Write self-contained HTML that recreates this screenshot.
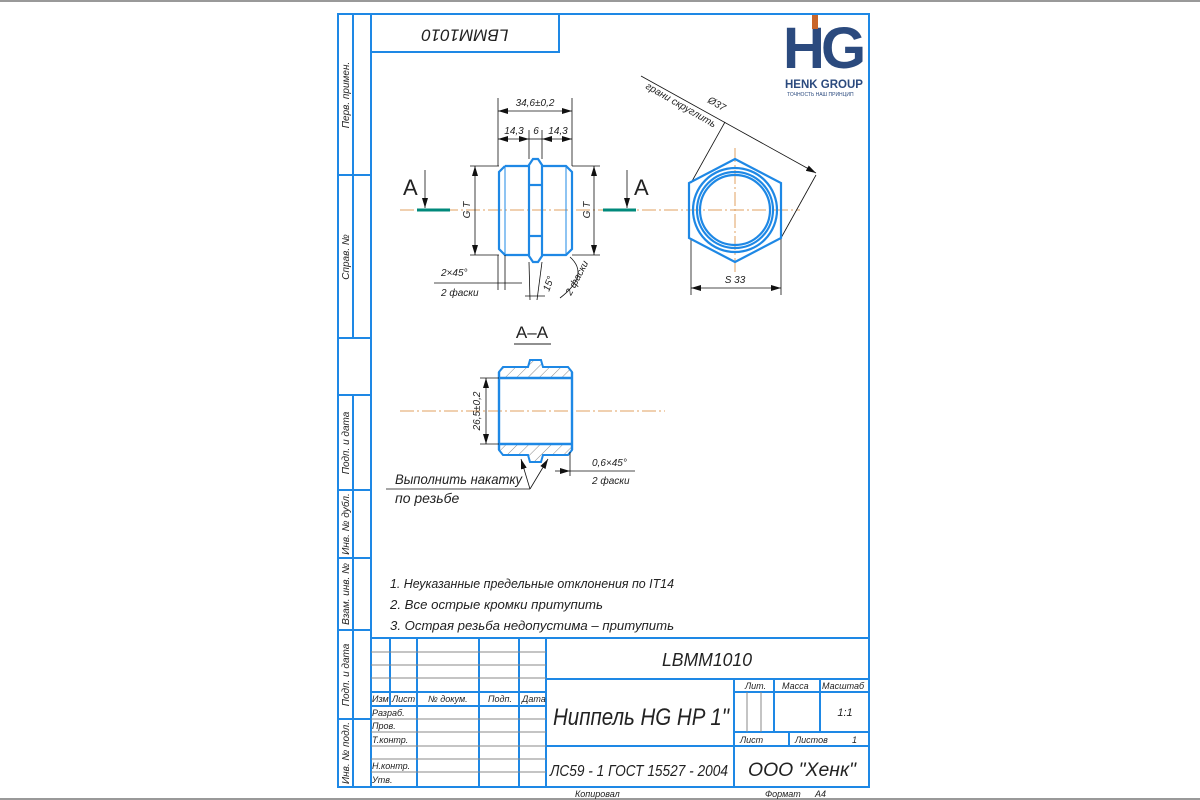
<!DOCTYPE html>
<html><head><meta charset="utf-8"><style>
html,body{margin:0;padding:0;background:#fff}
svg{display:block}
text{font-family:"Liberation Sans Narrow","Liberation Sans",sans-serif;font-style:italic;fill:#222}
</style></head><body>
<svg width="1200" height="800" viewBox="0 0 1200 800" xmlns="http://www.w3.org/2000/svg">
<defs>
<marker id="ar" viewBox="0 0 10 6" refX="10" refY="3" markerWidth="10" markerHeight="6" orient="auto-start-reverse" markerUnits="userSpaceOnUse"><path d="M0,0L10,3L0,6z" fill="#111"/></marker>
<pattern id="hatch" width="8" height="8" patternUnits="userSpaceOnUse" patternTransform="rotate(45)"><line x1="0" y1="0" x2="0" y2="8" stroke="#555" stroke-width="0.7"/></pattern>
</defs>
<rect x="0" y="0" width="1200" height="2" fill="#999"/>
<rect x="0" y="798" width="1200" height="2" fill="#999"/>
<g stroke="#1e88e5" stroke-width="2" fill="none">
<rect x="338" y="14" width="531" height="773"/>
<line x1="371" y1="14" x2="371" y2="787"/>
<line x1="353" y1="14" x2="353" y2="338"/>
<line x1="338" y1="175" x2="371" y2="175"/>
<line x1="338" y1="338" x2="371" y2="338"/>
<line x1="353" y1="395" x2="353" y2="787"/>
<line x1="338" y1="395" x2="371" y2="395"/>
<line x1="338" y1="490" x2="371" y2="490"/>
<line x1="338" y1="558" x2="371" y2="558"/>
<line x1="338" y1="630" x2="371" y2="630"/>
<line x1="338" y1="719" x2="371" y2="719"/>
<rect x="371" y="14" width="188" height="38"/>
<line x1="371" y1="638" x2="869" y2="638"/>
<line x1="390" y1="638" x2="390" y2="706"/>
<line x1="417" y1="638" x2="417" y2="787"/>
<line x1="479" y1="638" x2="479" y2="787"/>
<line x1="519" y1="638" x2="519" y2="787"/>
<line x1="546" y1="638" x2="546" y2="787"/>
<line x1="371" y1="692" x2="546" y2="692"/>
<line x1="371" y1="706" x2="546" y2="706"/>
<line x1="546" y1="679" x2="869" y2="679"/>
<line x1="546" y1="746" x2="869" y2="746"/>
<line x1="734" y1="679" x2="734" y2="787"/>
<line x1="734" y1="692" x2="869" y2="692"/>
<line x1="734" y1="732" x2="869" y2="732"/>
<line x1="774" y1="679" x2="774" y2="732"/>
<line x1="820" y1="679" x2="820" y2="732"/>
<line x1="789" y1="732" x2="789" y2="746"/>
</g>
<g stroke="#888" stroke-width="1">
<line x1="371" y1="652" x2="546" y2="652"/><line x1="371" y1="665" x2="546" y2="665"/><line x1="371" y1="678" x2="546" y2="678"/>
<line x1="371" y1="719" x2="546" y2="719"/><line x1="371" y1="732" x2="546" y2="732"/><line x1="371" y1="746" x2="546" y2="746"/><line x1="371" y1="759" x2="546" y2="759"/><line x1="371" y1="772" x2="546" y2="772"/>
<line x1="747" y1="692" x2="747" y2="732"/><line x1="761" y1="692" x2="761" y2="732"/>
</g>
<g font-size="10">
<text transform="translate(349,95) rotate(-90)" text-anchor="middle">Перв. примен.</text>
<text transform="translate(349,257) rotate(-90)" text-anchor="middle">Справ. №</text>
<text transform="translate(349,443) rotate(-90)" text-anchor="middle">Подп. и дата</text>
<text transform="translate(349,524) rotate(-90)" text-anchor="middle">Инв. № дубл.</text>
<text transform="translate(349,594) rotate(-90)" text-anchor="middle">Взам. инв. №</text>
<text transform="translate(349,675) rotate(-90)" text-anchor="middle">Подп. и дата</text>
<text transform="translate(349,753) rotate(-90)" text-anchor="middle">Инв. № подл.</text>
</g>
<text transform="translate(465,34) rotate(180)" text-anchor="middle" font-size="17" dominant-baseline="middle">LBMM1010</text>
<!-- logo -->
<text x="783" y="68" font-size="58" font-weight="bold" style="font-style:normal;fill:#2b4a7e;font-family:'Liberation Sans',sans-serif">H</text>
<rect x="812" y="15" width="6" height="14" fill="#c8652a"/>
<text x="821" y="68" font-size="58" font-weight="bold" style="font-style:normal;fill:#2b4a7e;font-family:'Liberation Sans',sans-serif">G</text>
<text x="785" y="88" font-size="11.5" font-weight="bold" style="font-style:normal;fill:#2b4a7e;font-family:'Liberation Sans',sans-serif">HENK GROUP</text>
<text x="787" y="96" font-size="5" style="font-style:normal;fill:#2b4a7e;font-family:'Liberation Sans',sans-serif">ТОЧНОСТЬ НАШ ПРИНЦИП</text>
<!-- centerlines -->
<g stroke="#e0a060" stroke-width="1" stroke-dasharray="14,3,2,3" fill="none">
<line x1="400" y1="210" x2="800" y2="210"/>
<line x1="735" y1="148" x2="735" y2="272"/>
<line x1="400" y1="411" x2="665" y2="411"/>
</g>
<!-- main view -->
<g stroke="#1e88e5" stroke-width="2.2" fill="none">
<path d="M505,166 H529 M542,166 H566 L572,172 V249 L566,255 H542 M529,255 H505 L499,249 V172 L505,166"/>
<path d="M533,159 H538 L542,165 V256 L538,262 H533 L529,256 V165 Z"/>
<line x1="529" y1="185" x2="542" y2="185"/><line x1="529" y1="236" x2="542" y2="236"/>
</g>
<g stroke="#1e88e5" stroke-width="1" fill="none"><line x1="505" y1="166" x2="505" y2="255"/><line x1="566" y1="166" x2="566" y2="255"/></g>
<g stroke="#111" stroke-width="0.8" fill="none">
<line x1="498" y1="98" x2="498" y2="166"/><line x1="572" y1="98" x2="572" y2="166"/>
<line x1="529" y1="130" x2="529" y2="159"/><line x1="542" y1="130" x2="542" y2="159"/>
<line x1="498" y1="111" x2="572" y2="111" marker-start="url(#ar)" marker-end="url(#ar)"/>
<line x1="498" y1="139" x2="529" y2="139" marker-start="url(#ar)" marker-end="url(#ar)"/>
<line x1="529" y1="139" x2="542" y2="139"/>
<line x1="542" y1="139" x2="572" y2="139" marker-start="url(#ar)" marker-end="url(#ar)"/>
<line x1="470" y1="166" x2="499" y2="166"/><line x1="470" y1="255" x2="499" y2="255"/>
<line x1="475" y1="166" x2="475" y2="255" marker-start="url(#ar)" marker-end="url(#ar)"/>
<line x1="572" y1="166" x2="600" y2="166"/><line x1="572" y1="255" x2="600" y2="255"/>
<line x1="594" y1="166" x2="594" y2="255" marker-start="url(#ar)" marker-end="url(#ar)"/>
<line x1="425" y1="170" x2="425" y2="208" marker-end="url(#ar)"/>
<line x1="627" y1="170" x2="627" y2="208" marker-end="url(#ar)"/>
<line x1="434" y1="283" x2="522" y2="283"/><line x1="498" y1="255" x2="498" y2="290"/><line x1="505" y1="255" x2="505" y2="290"/>
<line x1="542" y1="262" x2="537" y2="300"/><line x1="529" y1="262" x2="530" y2="300"/>
<line x1="525" y1="296" x2="545" y2="296"/>
<path d="M570,257 Q590,275 560,298"/>
<line x1="691" y1="238" x2="691" y2="295"/><line x1="781" y1="238" x2="781" y2="295"/>
<line x1="691" y1="288" x2="781" y2="288" marker-start="url(#ar)" marker-end="url(#ar)"/>
<line x1="641" y1="76" x2="816" y2="173" marker-end="url(#ar)"/>
<line x1="691" y1="183" x2="725" y2="122"/><line x1="781" y1="238" x2="816" y2="175"/>
</g>
<g stroke="#00897b" stroke-width="3"><line x1="417" y1="210" x2="450" y2="210"/><line x1="603" y1="210" x2="636" y2="210"/></g>
<text x="403" y="195" font-size="22" style="font-style:normal;font-family:'Liberation Sans',sans-serif">A</text>
<text x="634" y="195" font-size="22" style="font-style:normal;font-family:'Liberation Sans',sans-serif">A</text>
<g font-size="10">
<text x="535" y="106" text-anchor="middle">34,6±0,2</text>
<text x="514" y="134" text-anchor="middle">14,3</text>
<text x="536" y="134" text-anchor="middle">6</text>
<text x="558" y="134" text-anchor="middle">14,3</text>
<text transform="translate(470,210) rotate(-90)" text-anchor="middle">G T</text>
<text transform="translate(590,210) rotate(-90)" text-anchor="middle">G T</text>
<text x="441" y="276">2×45°</text>
<text x="441" y="296">2 фаски</text>
<text transform="translate(549,292) rotate(-70)">15°</text>
<text transform="translate(571,296) rotate(-62)">2 фаски</text>
<text x="735" y="283" text-anchor="middle">S 33</text>
<text transform="translate(707,102) rotate(30)">Ø37</text>
<text transform="translate(645,88) rotate(30)">грани скруглить</text>
</g>
<g stroke="#1e88e5" stroke-width="2.2" fill="none">
<polygon points="735,159 781,183 781,238 735,262 689,238 689,183"/>
<circle cx="735" cy="210" r="42"/><circle cx="735" cy="210" r="38"/><circle cx="735" cy="210" r="35"/>
</g>
<!-- section A-A -->
<text x="532" y="338" font-size="17" text-anchor="middle" style="font-style:normal;font-family:'Liberation Sans',sans-serif">A–A</text>
<line x1="514" y1="344" x2="551" y2="344" stroke="#222" stroke-width="1"/>
<path d="M503,367 H528 L530,360 H541 L543,367 H568 L572,372 V378 H499 V372 Z" fill="url(#hatch)" stroke="#1e88e5" stroke-width="2"/>
<path d="M503,455 H528 L530,462 H541 L543,455 H568 L572,450 V444 H499 V450 Z" fill="url(#hatch)" stroke="#1e88e5" stroke-width="2"/>
<g stroke="#1e88e5" stroke-width="2.4" fill="none"><line x1="499" y1="372" x2="499" y2="450"/><line x1="572" y1="372" x2="572" y2="450"/><line x1="499" y1="378" x2="572" y2="378"/><line x1="499" y1="444" x2="572" y2="444"/></g>
<g stroke="#111" stroke-width="0.8" fill="none">
<line x1="480" y1="378" x2="499" y2="378"/><line x1="480" y1="444" x2="499" y2="444"/>
<line x1="486" y1="378" x2="486" y2="444" marker-start="url(#ar)" marker-end="url(#ar)"/>
<line x1="386" y1="489" x2="530" y2="489"/>
<line x1="530" y1="489" x2="521" y2="459" marker-end="url(#ar)"/>
<line x1="530" y1="489" x2="548" y2="459" marker-end="url(#ar)"/>
<line x1="570" y1="452" x2="570" y2="476"/>
<line x1="555" y1="471" x2="570" y2="471" marker-end="url(#ar)"/>
<line x1="570" y1="471" x2="635" y2="471"/>
</g>
<g font-size="10">
<text transform="translate(480,411) rotate(-90)" text-anchor="middle">26,5±0,2</text>
<text x="592" y="466">0,6×45°</text>
<text x="592" y="484">2 фаски</text>
</g>
<text x="395" y="484" font-size="14" textLength="127" lengthAdjust="spacingAndGlyphs">Выполнить накатку</text>
<text x="395" y="503" font-size="14">по резьбе</text>
<g font-size="13">
<text x="390" y="588" textLength="284" lengthAdjust="spacingAndGlyphs">1. Неуказанные предельные отклонения по IT14</text>
<text x="390" y="609" textLength="213" lengthAdjust="spacingAndGlyphs">2. Все острые кромки притупить</text>
<text x="390" y="630" textLength="284" lengthAdjust="spacingAndGlyphs">3. Острая резьба недопустима – притупить</text>
</g>
<g font-size="9">
<text x="372" y="702">Изм</text><text x="392" y="702">Лист</text><text x="428" y="702">№ докум.</text><text x="488" y="702">Подп.</text><text x="522" y="702">Дата</text>
<text x="372" y="716">Разраб.</text><text x="372" y="729">Пров.</text><text x="372" y="743">Т.контр.</text>
<text x="372" y="769">Н.контр.</text><text x="372" y="783">Утв.</text>
<text x="745" y="689">Лит.</text><text x="782" y="689">Масса</text><text x="822" y="689">Масштаб</text>
<text x="740" y="743">Лист</text><text x="795" y="743">Листов</text><text x="852" y="743">1</text>
<text x="575" y="797">Копировал</text><text x="765" y="797">Формат</text><text x="815" y="797">A4</text>
</g>
<text x="845" y="716" font-size="11" text-anchor="middle">1:1</text>
<text x="662" y="666" font-size="18" textLength="90" lengthAdjust="spacingAndGlyphs">LBMM1010</text>
<text x="553" y="725" font-size="24" textLength="176" lengthAdjust="spacingAndGlyphs">Ниппель HG HP 1"</text>
<text x="550" y="776" font-size="16" textLength="178" lengthAdjust="spacingAndGlyphs">ЛС59 - 1 ГОСТ 15527 - 2004</text>
<text x="748" y="776" font-size="19" textLength="108" lengthAdjust="spacingAndGlyphs">ООО "Хенк"</text>
</svg>
</body></html>
